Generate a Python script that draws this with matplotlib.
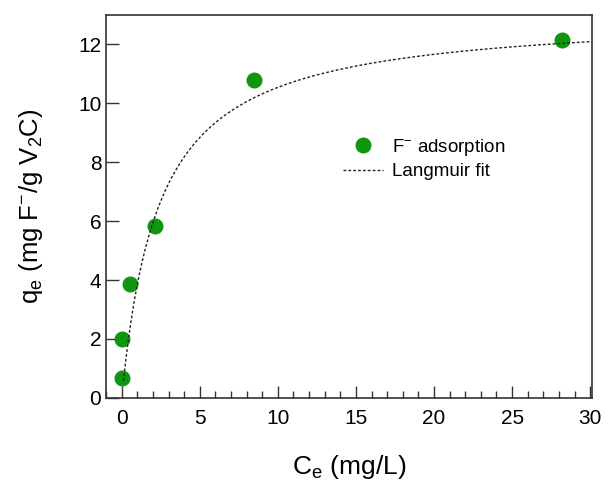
import numpy as np
import matplotlib.pyplot as plt
from matplotlib.ticker import MultipleLocator

plt.rcParams['font.family'] = ['Liberation Sans', 'DejaVu Sans']
plt.rcParams['mathtext.fontset'] = 'custom'
plt.rcParams['mathtext.rm'] = 'Liberation Sans'
plt.rcParams['mathtext.it'] = 'Liberation Sans:italic'

# measured data
ce = [0.0, 0.0, 0.5, 2.15, 8.45, 28.2]
qe = [0.68, 2.0, 3.86, 5.82, 10.8, 12.15]

# Langmuir fit parameters
qm = 13.05
kl = 0.42
c_start = 0.11
c_end = 30.0

c_fit = np.linspace(c_start, c_end, 400)
q_fit = qm * kl * c_fit / (1 + kl * c_fit)

fig = plt.figure(figsize=(6.1, 4.8), dpi=100)
ax = fig.add_axes([0.174, 0.171, 0.796, 0.798])

ax.plot(ce, qe, 'o', color='#0f960f', markersize=10.5, label='F$^{\\mathrm{-}}$ adsorption')
ax.plot(c_fit, q_fit, linestyle=(0, (2, 1.5)), color='#222222', linewidth=1, label='Langmuir fit')

ax.set_xlim(-1, 30.1)
ax.set_ylim(0, 13)
ax.xaxis.set_major_locator(MultipleLocator(5))
ax.xaxis.set_minor_locator(MultipleLocator(1))
ax.yaxis.set_major_locator(MultipleLocator(2))
ax.tick_params(which='both', direction='in', top=False, right=False, labelsize=15, color='#333333')
ax.tick_params(which='major', length=9, width=1)
ax.tick_params(which='minor', length=5, width=1)
ax.tick_params(axis='x', pad=8)
for s in ax.spines.values():
    s.set_color('#333333')
    s.set_linewidth(1.2)

ax.set_xlabel('C$_\\mathrm{e}$ (mg/L)', fontsize=19, labelpad=18)
ax.set_ylabel('q$_\\mathrm{e}$ (mg F$^{\\mathrm{-}}$/g V$_\\mathrm{2}$C)', fontsize=18.5, labelpad=24)

ax.legend(loc='upper left', bbox_to_anchor=(0.488, 0.682), frameon=False, fontsize=13.5,
          handlelength=2.13, handletextpad=0.5, labelspacing=0.29,
          borderpad=0, borderaxespad=0)

fig.savefig('out.png', dpi=100)
